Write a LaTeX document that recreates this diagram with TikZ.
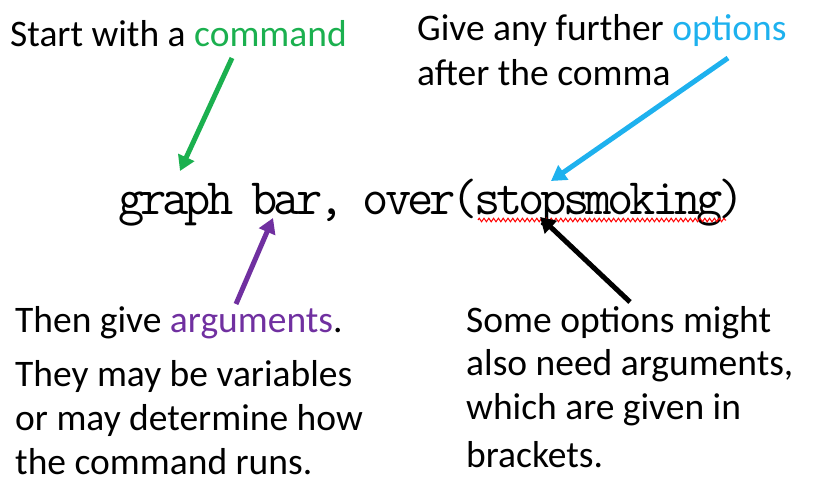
\documentclass[tikz,border=0pt]{standalone}
\usepackage{fontspec}
\setmainfont{Carlito}
\usetikzlibrary{arrows.meta,decorations.pathmorphing}
\definecolor{cmdgreen}{HTML}{1BB04F}
\definecolor{optblue}{HTML}{1EB1EE}
\definecolor{argpurple}{HTML}{7030A0}
\newlength{\cellw}\setlength{\cellw}{22.25pt}
\def\monoseq#1{\ifx#1\relax\else\makebox[\cellw][c]{#1}\expandafter\monoseq\fi}
\tikzset{
  lbl/.style={anchor=base west, inner sep=0pt, font=\fontsize{37.5}{46}\selectfont},
  codetxt/.style={anchor=base west, inner sep=0pt, font=\fontsize{51}{60}\ttfamily},
  pointer/.style={line width=5pt, -{Triangle[width=17pt,length=15pt]}},
  squiggle/.style={draw=red, line width=1pt, decorate, decoration={zigzag, amplitude=1.8pt, segment length=4.8pt}}
}
\begin{document}
\begin{tikzpicture}[x=1pt,y=-1pt]
\useasboundingbox (0,0) rectangle (826,492);
% code line
\node[codetxt] (code) at (120,214) {\monoseq graph\ bar,\ over(stopsmoking)\relax};
\coordinate (wavea) at (478,220);
\coordinate (waveb) at (726,220);
\path[squiggle] (wavea) -- (waveb);
% labels
\node[lbl] (start) at (10,47) {Start with a \textcolor{cmdgreen}{command}};
\node[lbl] (give1) at (417,41) {Give any further \textcolor{optblue}{options}};
\node[lbl] (give2) at (417,86) {after the comma};
\node[lbl] (then1) at (15,332) {Then give \textcolor{argpurple}{arguments}.};
\node[lbl] (then2) at (15,386) {They may be variables};
\node[lbl] (then3) at (15,430) {or may determine how};
\node[lbl] (then4) at (15,474) {the command runs.};
\node[lbl] (some1) at (466,332) {Some options might};
\node[lbl] (some2) at (466,375) {also need arguments,};
\node[lbl] (some3) at (466,419) {which are given in};
\node[lbl] (some4) at (466,467) {brackets.};
% arrow ends
\coordinate (gs) at (232,58);
\coordinate (gt) at (180,171);
\coordinate (bs) at (728,58);
\coordinate (bt) at (551,181);
\coordinate (ps) at (236,304);
\coordinate (pt) at (273,218);
\coordinate (ks) at (630,302);
\coordinate (kt) at (540,217);
\draw[pointer, cmdgreen] (gs) -- (gt);
\draw[pointer, optblue] (bs) -- (bt);
\draw[pointer, argpurple] (ps) -- (pt);
\draw[pointer, black] (ks) -- (kt);
\end{tikzpicture}
\end{document}
